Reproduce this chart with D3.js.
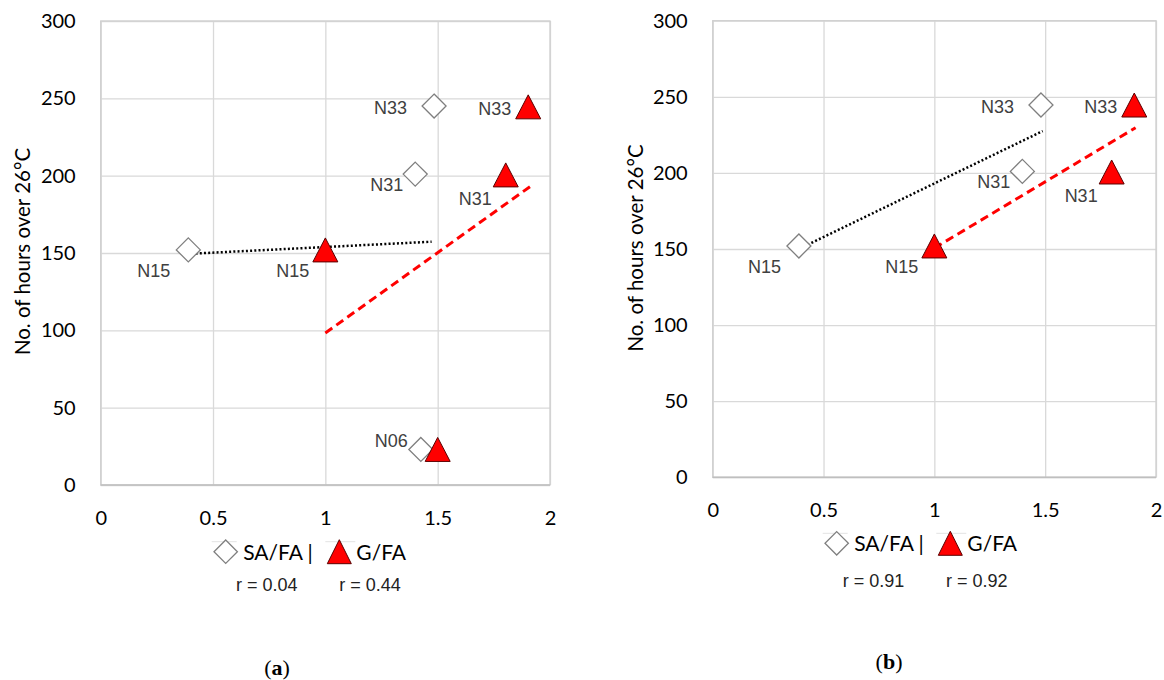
<!DOCTYPE html>
<html>
<head>
<meta charset="utf-8">
<script src="https://cdn.jsdelivr.net/npm/d3@7"></script>
<style>
  html, body { margin: 0; padding: 0; background: #fff; }
  svg { display: block; }
</style>
</head>
<body>
<svg id="chart" width="1164" height="680"></svg>
<script>
// ---------------- DATA ----------------
const xTicks = [0, 0.5, 1, 1.5, 2];
const yTicks = [0, 50, 100, 150, 200, 250, 300];

// Panel (a)
const aSaNames = ["N15", "N31", "N33", "N06"];
const aSaX = [0.39, 1.40, 1.484, 1.425];
const aSaY = [152, 201, 245, 23];
const aGNames = ["N15", "N31", "N33", "N06"];
const aGX = [1.00, 1.803, 1.903, 1.50];
const aGY = [152, 200.5, 244.5, 23];
const aSaTrendX = [0.385, 1.473];
const aSaTrendY = [149.4, 157.3];
const aGTrendX = [1.00, 1.911];
const aGTrendY = [98.3, 192.9];
const aR = ["r = 0.04", "r = 0.44"];

// Panel (b)
const bSaNames = ["N15", "N31", "N33"];
const bSaX = [0.389, 1.397, 1.481];
const bSaY = [152, 201, 244.6];
const bGNames = ["N15", "N31", "N33"];
const bGX = [1.00, 1.80, 1.902];
const bGY = [152, 200.6, 244.6];
const bSaTrendX = [0.394, 1.489];
const bSaTrendY = [150.4, 227.5];
const bGTrendX = [1.00, 1.908];
const bGTrendY = [150.6, 229.7];
const bR = ["r = 0.91", "r = 0.92"];

const legendLabels = ["SA/FA |", "G/FA"];
const yTitle = "No. of hours over 26°C";

// label placement per name (style, not data)
const labelPlace = {
  sa: { N15: [-18, 27], N31: [-12, 17], N33: [-27, 8], N06: [-13, -2] },
  g:  { N15: [-16, 27], N31: [-14, 30], N33: [-17, 8], N06: [-13, -2] }
};

const panels = [
  { tag: "a", left: 100.7, right: 550, top: 21, bottom: 485, titleX: 23, titleY: 251.5,
    saN: aSaNames, saX: aSaX, saY: aSaY, gN: aGNames, gX: aGX, gY: aGY,
    saTX: aSaTrendX, saTY: aSaTrendY, gTX: aGTrendX, gTY: aGTrendY, r: aR,
    legX: 225.7, legY: 551.7, rY: 591, rX: [236, 339.3], capX: 277, capY: 675 },
  { tag: "b", left: 712.7, right: 1156, top: 20.7, bottom: 477.3, titleX: 636, titleY: 248,
    saN: bSaNames, saX: bSaX, saY: bSaY, gN: bGNames, gX: bGX, gY: bGY,
    saTX: bSaTrendX, saTY: bSaTrendY, gTX: bGTrendX, gTY: bGTrendY, r: bR,
    legX: 836.7, legY: 543.3, rY: 586.5, rX: [842.7, 946], capX: 889, capY: 669 }
];

const svg = d3.select("#chart");
const TICKFONT = "Lato, 'Open Sans', sans-serif";
const ARIAL = "'Liberation Sans', Arial, sans-serif";

function diamondPath(cx, cy, r) {
  return `M${cx},${cy - r}L${cx + r},${cy}L${cx},${cy + r}L${cx - r},${cy}Z`;
}
function trianglePath(cx, cy, w, h) {
  return `M${cx},${cy - h / 2}L${cx + w / 2},${cy + h / 2}L${cx - w / 2},${cy + h / 2}Z`;
}

panels.forEach(p => {
  const g = svg.append("g");
  const x = d3.scaleLinear().domain([0, 2]).range([p.left, p.right]);
  const y = d3.scaleLinear().domain([0, 300]).range([p.bottom, p.top]);
  const W = p.right - p.left, H = p.bottom - p.top;

  // gridlines
  const gx = g.append("g").attr("transform", `translate(0,${p.bottom})`)
    .call(d3.axisBottom(x).tickValues(xTicks).tickSize(-H).tickFormat(""));
  gx.select(".domain").remove();
  gx.selectAll("line").attr("stroke", "#d9d9d9").attr("stroke-width", 1.3);
  const gy = g.append("g").attr("transform", `translate(${p.left},0)`)
    .call(d3.axisLeft(y).tickValues(yTicks).tickSize(-W).tickFormat(""));
  gy.select(".domain").remove();
  gy.selectAll("line").attr("stroke", "#d9d9d9").attr("stroke-width", 1.3);

  // plot border
  g.append("rect").attr("x", p.left).attr("y", p.top).attr("width", W).attr("height", H)
    .attr("fill", "none").attr("stroke", "#cfcfcf").attr("stroke-width", 1.3);
  g.append("line").attr("x1", p.left).attr("x2", p.right).attr("y1", p.bottom).attr("y2", p.bottom)
    .attr("stroke", "#bfbfbf").attr("stroke-width", 1.6);

  // tick labels
  const ax = g.append("g").attr("transform", `translate(0,${p.bottom})`)
    .call(d3.axisBottom(x).tickValues(xTicks).tickSize(0).tickPadding(0).tickFormat(d3.format("")));
  ax.select(".domain").remove();
  ax.selectAll("text").attr("dy", null).attr("y", 39.5).attr("font-family", TICKFONT)
    .attr("font-size", 20).attr("fill", "#000");
  const ay = g.append("g").attr("transform", `translate(${p.left},0)`)
    .call(d3.axisLeft(y).tickValues(yTicks).tickSize(0).tickPadding(25));
  ay.select(".domain").remove();
  ay.selectAll("text").attr("font-family", TICKFONT).attr("font-size", 20).attr("fill", "#000");

  // y title
  g.append("text").attr("transform", `translate(${p.titleX + 7},${p.titleY}) rotate(-90)`)
    .attr("text-anchor", "middle").attr("font-family", TICKFONT).attr("font-size", 20.5)
    .attr("fill", "#000").text(yTitle);

  // trendlines
  const line = d3.line().x(d => x(d[0])).y(d => y(d[1]));
  g.append("path").attr("d", line(d3.zip(p.saTX, p.saTY)))
    .attr("fill", "none").attr("stroke", "#000").attr("stroke-width", 2.5)
    .attr("stroke-dasharray", "2,2.2").attr("stroke-linecap", "butt");
  g.append("path").attr("d", line(d3.zip(p.gTX, p.gTY)))
    .attr("fill", "none").attr("stroke", "#ff0000").attr("stroke-width", 3)
    .attr("stroke-dasharray", "8.5,5");

  // SA/FA diamonds
  p.saX.forEach((vx, i) => {
    const cx = x(vx), cy = y(p.saY[i]);
    g.append("path").attr("d", diamondPath(cx, cy, 12))
      .attr("fill", "#fff").attr("stroke", "#7f7f7f").attr("stroke-width", 1.3);
    const off = labelPlace.sa[p.saN[i]];
    g.append("text").attr("x", cx + off[0]).attr("y", cy + off[1]).attr("text-anchor", "end")
      .attr("font-family", ARIAL).attr("font-size", 18).attr("fill", "#404040").text(p.saN[i]);
  });
  // G/FA triangles
  p.gX.forEach((vx, i) => {
    const cx = x(vx), cy = y(p.gY[i]);
    g.append("path").attr("d", trianglePath(cx, cy, 25, 24))
      .attr("fill", "#ff0000").attr("stroke", "#5a0000").attr("stroke-width", 1);
    const off = labelPlace.g[p.gN[i]];
    if (p.gN[i] !== "N06") {
      g.append("text").attr("x", cx + off[0]).attr("y", cy + off[1]).attr("text-anchor", "end")
        .attr("font-family", ARIAL).attr("font-size", 18).attr("fill", "#404040").text(p.gN[i]);
    }
  });

  // legend
  const lx = p.legX, ly = p.legY;
  g.append("line").attr("x1", lx - 14).attr("x2", lx + 11).attr("y1", ly - 10).attr("y2", ly - 10)
    .attr("stroke", "#e3e3e3").attr("stroke-width", 1);
  g.append("path").attr("d", diamondPath(lx, ly, 11.7))
    .attr("fill", "#fff").attr("stroke", "#7f7f7f").attr("stroke-width", 1.3);
  g.append("text").attr("x", lx + 17.5).attr("y", ly + 8).attr("font-family", TICKFONT)
    .attr("font-size", 21).attr("fill", "#000").text(legendLabels[0]);
  const tx = lx + 113.6;
  g.append("line").attr("x1", tx - 14).attr("x2", tx + 16).attr("y1", ly - 10).attr("y2", ly - 10)
    .attr("stroke", "#e3e3e3").attr("stroke-width", 1);
  g.append("path").attr("d", trianglePath(tx, ly, 24, 24))
    .attr("fill", "#ff0000").attr("stroke", "#5a0000").attr("stroke-width", 1);
  g.append("text").attr("x", tx + 17).attr("y", ly + 8).attr("font-family", TICKFONT)
    .attr("font-size", 21).attr("fill", "#000").text(legendLabels[1]);

  // r values
  p.r.forEach((t, i) => {
    g.append("text").attr("x", p.rX[i]).attr("y", p.rY).attr("font-family", ARIAL)
      .attr("font-size", 18).attr("fill", "#222").text(t);
  });

  // caption
  const cap = g.append("text").attr("x", p.capX).attr("y", p.capY).attr("text-anchor", "middle")
    .attr("font-family", "'Liberation Serif', 'DejaVu Serif', serif").attr("font-size", 22).attr("fill", "#000");
  cap.append("tspan").text("(");
  cap.append("tspan").attr("font-weight", "bold").text(p.tag);
  cap.append("tspan").text(")");
});
</script>
</body>
</html>
